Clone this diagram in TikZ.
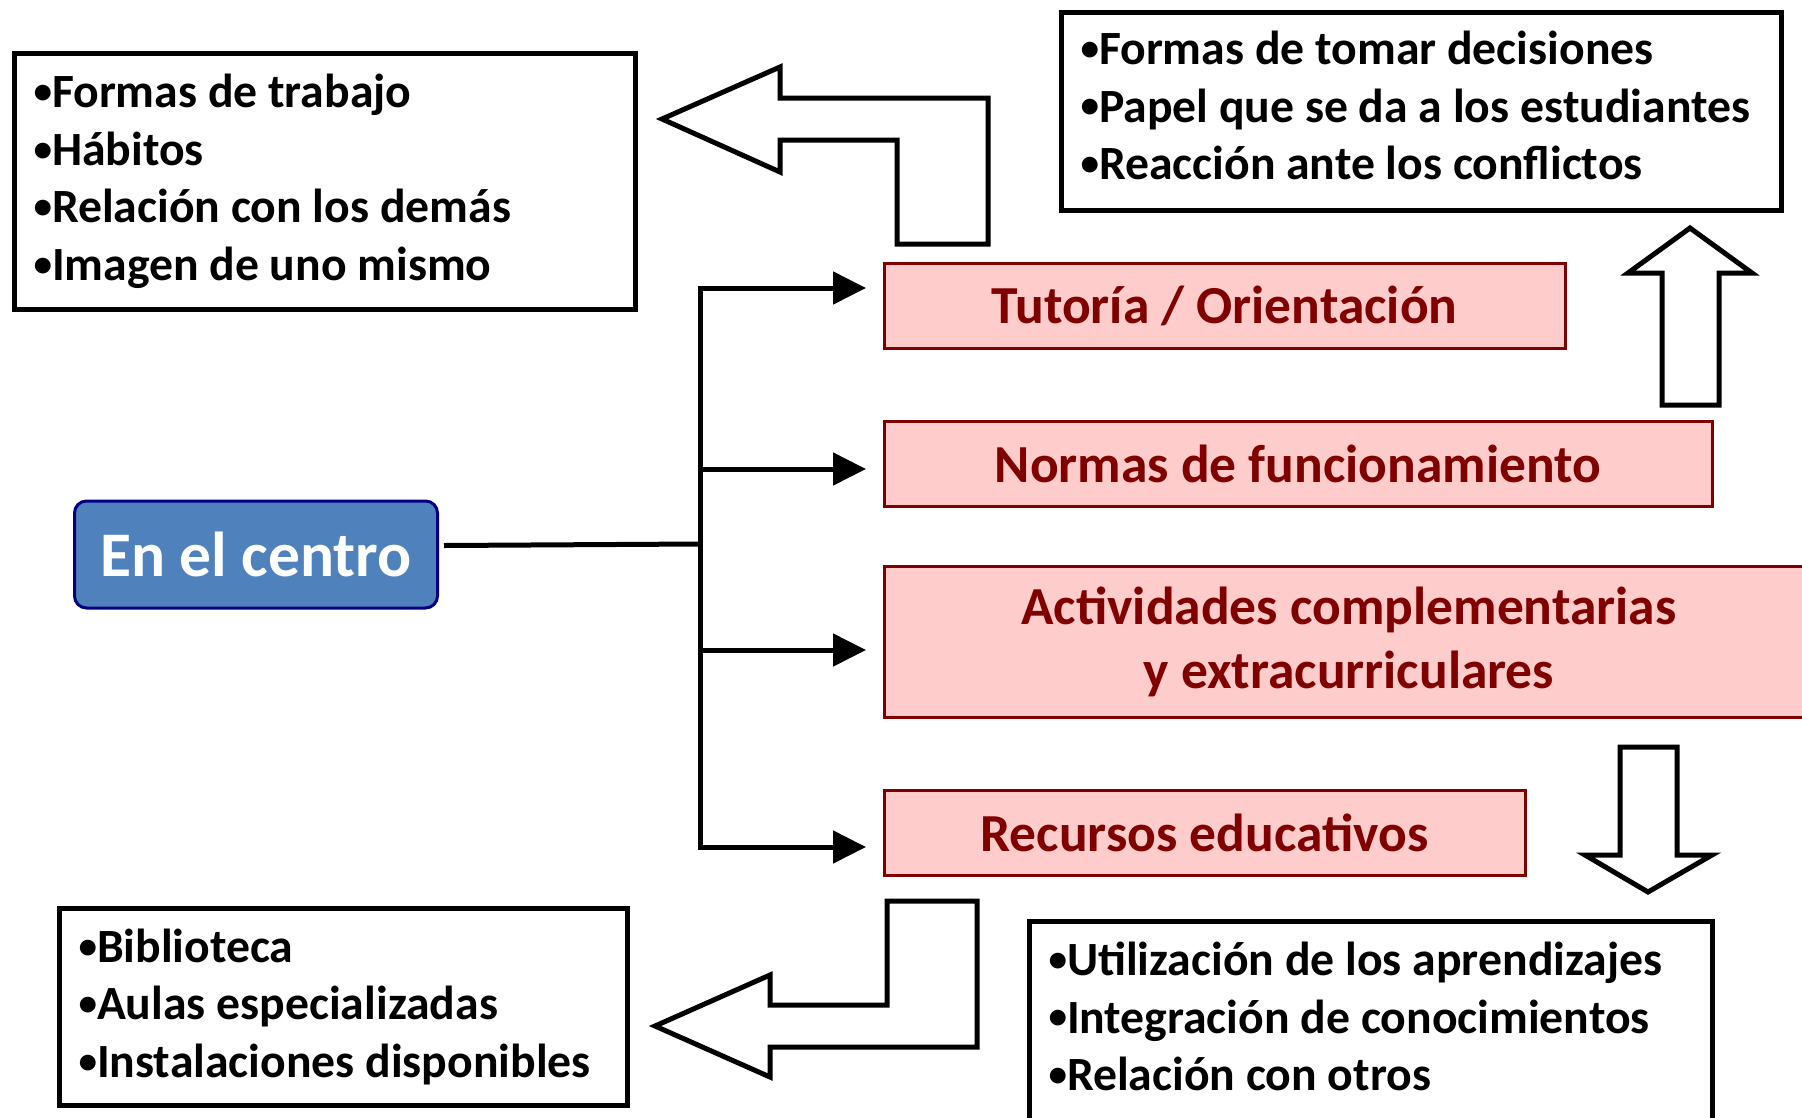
\documentclass[tikz,border=0pt]{standalone}
\usepackage{fontspec}
\usepackage{graphicx}
\setmainfont{Carlito}
\usetikzlibrary{arrows.meta}
\definecolor{boxred}{RGB}{128,0,0}
\definecolor{boxpink}{RGB}{255,204,204}
\definecolor{centblue}{RGB}{79,129,189}
\definecolor{centnavy}{RGB}{0,0,128}
\newcommand{\bul}{\raisebox{0.09em}{\scalebox{0.78}{•}}}
\tikzset{
  listbox/.style={draw=black, line width=5pt, anchor=north west, align=flush left, inner xsep=19pt, inner ysep=0pt, font=\fontsize{47.7}{57.5}\selectfont\bfseries},
  topicbox/.style={draw=boxred, fill=boxpink, line width=3pt, anchor=north west, align=center, text=boxred, inner sep=0pt, font=\fontsize{53.5}{63.5}\selectfont\bfseries},
  branch/.style={line width=5pt, line cap=rect},
  fatarrow/.style={draw=black, line width=5pt, line join=miter, fill=white}
}
\begin{document}
\begin{tikzpicture}[x=1pt,y=-1pt]
\useasboundingbox (0,0) rectangle (1802,1117);

\node[listbox, text width=583pt, minimum height=256pt] (habitos) at (12,51)
  {\bul Formas de trabajo\\\bul Hábitos\\\bul Relación con los demás\\\bul Imagen de uno mismo};
\node[listbox, text width=682pt, minimum height=198pt] (decisiones) at (1059,10)
  {\bul Formas de tomar decisiones\\\bul Papel que se da a los estudiantes\\\bul Reacción ante los conflictos\rule[-12pt]{0pt}{1pt}};
\node[listbox, text width=530pt, minimum height=197pt] (espacios) at (57,906)
  {\bul Biblioteca\\\bul Aulas especializadas\\\bul Instalaciones disponibles};
\node[listbox, text width=645pt, minimum height=200pt] (aprendizajes) at (1027,919)
  {\bul Utilización de los aprendizajes\\\bul Integración de conocimientos\\\bul Relación con otros\rule[-10pt]{0pt}{1pt}};

\node[topicbox, minimum width=681pt, minimum height=85pt] (tutoria) at (882.5,262) {Tutoría / Orientación};
\node[topicbox, minimum width=828pt, minimum height=85pt] (normas) at (882.5,420) {Normas de funcionamiento};
\node[topicbox, minimum width=930pt, minimum height=151pt] (activ) at (882.5,565) {Actividades complementarias\\y extracurriculares};
\node[topicbox, minimum width=641pt, minimum height=85pt] (recursos) at (882.5,789) {Recursos educativos};

\node[draw=centnavy, fill=centblue, line width=3pt, rounded corners=12pt, anchor=north west,
  minimum width=363pt, minimum height=107pt, text=white, font=\fontsize{63.5}{70}\selectfont\bfseries] (centro) at (73,499.5) {En el centro};

\coordinate (jn) at (700,544);
\coordinate (t1) at (866,288);
\coordinate (t2) at (866,469);
\coordinate (t3) at (866,650);
\coordinate (t4) at (866,847);

\draw[line width=5pt] ([xshift=5pt,yshift=9pt]centro.east) -- (jn);
\draw[branch] (jn |- t1) -- (jn |- t4);
\foreach \t in {t1,t2,t3,t4}
  \draw[branch, -{Triangle[length=33pt,width=32pt]}] (jn |- \t) -- (\t);

\draw[fatarrow] (662,119) -- (780,67) -- (780,98) -- (988,98) -- (988,244) -- (897,244)
  -- (897,140) -- (780,140) -- (780,172) -- cycle;
\draw[fatarrow] (1690,228) -- (1752,273) -- (1719,273) -- (1719,405) -- (1662,405)
  -- (1662,273) -- (1628,273) -- cycle;
\draw[fatarrow] (1620,747) -- (1677,747) -- (1677,855) -- (1712,855) -- (1648,892)
  -- (1585,855) -- (1620,855) -- cycle;
\draw[fatarrow] (655,1026) -- (770,975) -- (770,1005) -- (887,1005) -- (887,901) -- (977,901)
  -- (977,1047) -- (770,1047) -- (770,1077) -- cycle;
\end{tikzpicture}
\end{document}
